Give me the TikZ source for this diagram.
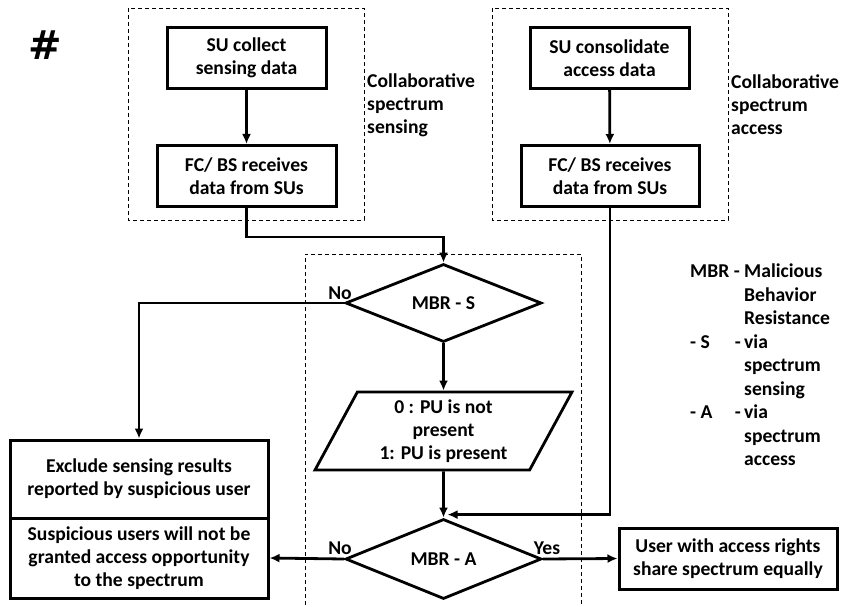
\documentclass[tikz,border=0pt]{standalone}
\usepackage{fontspec}
\setmainfont{Carlito}
\newfontfamily\hashfont{DejaVu Sans Bold}
\usetikzlibrary{positioning,arrows.meta,calc,shapes.geometric}
\tikzset{
  flowarrow/.style={-{Latex[length=10pt,width=9pt]}, line width=2.8pt},
  procbox/.style={draw, line width=3pt, fill=white, minimum width=160pt, minimum height=61pt, align=center, inner sep=2pt},
  decision/.style={draw, diamond, line width=2.8pt, fill=white, minimum width=196pt, minimum height=78pt, inner sep=0pt, align=center},
  iobox/.style={draw, trapezium, trapezium left angle=56, trapezium right angle=124, trapezium stretches body, line width=2.8pt, fill=white, minimum width=257pt, minimum height=78pt, inner sep=0pt, align=center},
  groupframe/.style={draw, line width=0.9pt, dash pattern=on 4pt off 3pt},
  sidenote/.style={align=left, anchor=west, inner sep=0pt},
  branch/.style={inner sep=0pt}
}
\begin{document}
\begin{tikzpicture}[x=1pt, y=-1pt, >=Latex, every node/.style={font=\fontsize{19.6}{23}\selectfont\bfseries}]
  \useasboundingbox (0,0) rectangle (843,607);
  \node[font=\hashfont\fontsize{40}{40}\selectfont, inner sep=0pt] (hash) at (45.5,45) {\#};
  \draw[groupframe] (128,8) rectangle (364,220);
  \draw[groupframe] (492,8) rectangle (728,220);
  \draw[groupframe] (305,612) -- (305,254) -- (581,254) -- (581,612);
  \node[procbox, minimum width=159pt] (collect) at (246.5,58) {SU collect\\sensing data};
  \node[procbox, minimum width=179pt] (fca) at (246.5,176) {FC/ BS receives\\data from SUs};
  \node[procbox, minimum width=159pt] (consol) at (609.5,58) {SU consolidate\\access data};
  \node[procbox, minimum width=178pt] (fcb) at (610,176) {FC/ BS receives\\data from SUs};
  \node[sidenote] (senslbl) at (367,105) {Collaborative\\spectrum\\sensing};
  \node[sidenote] (acclbl) at (731,105) {Collaborative\\spectrum\\access};
  \node[decision] (mbrs) at (443.5,303) {MBR - S};
  \node[iobox] (pu) at (443.5,431) {0 : PU is not\\present\\1: PU is present};
  \node[decision, minimum height=80pt] (mbra) at (443.5,559) {MBR - A};
  \node[procbox, minimum width=258pt, minimum height=78pt] (excl) at (139,479) {Exclude sensing results\\reported by suspicious user};
  \node[procbox, minimum width=258pt, minimum height=80pt] (deny) at (139,558) {Suspicious users will not be\\granted access opportunity\\to the spectrum};
  \node[procbox, minimum width=218pt, minimum height=61pt] (share) at (728,558.5) {User with access rights\\share spectrum equally};
  \node[anchor=west, inner sep=0pt, font=\fontsize{19.6}{23.5}\selectfont\bfseries] (legend) at (690,367) {\begin{tabular}{@{}p{54pt}@{}l@{}}
    MBR - & Malicious\\ & Behavior\\ & Resistance\\
    - S & \llap{-\,}via\\ & spectrum\\ & sensing\\
    - A & \llap{-\,}via\\ & spectrum\\ & access
  \end{tabular}};
  \node[branch] (nos) at (340,293) {No};
  \node[branch] (noa) at (340,548) {No};
  \node[branch] (yesa) at (547,548) {Yes};
  \draw[flowarrow] (collect) -- (fca);
  \draw[flowarrow] (consol) -- (fcb);
  \draw[flowarrow] (fca.south) -- ++(0,29) -| (mbrs.north);
  \draw[flowarrow] (mbrs.west) -| (excl.north);
  \draw[flowarrow] (mbrs) -- (pu);
  \draw[flowarrow] (pu) -- (mbra);
  \draw[flowarrow] (fcb.south) |- ([xshift=4pt,yshift=3pt]mbra.north);
  \draw[flowarrow] (mbra.west) -- (deny.east);
  \draw[flowarrow] (mbra.east) -- (share.west);
\end{tikzpicture}
\end{document}
